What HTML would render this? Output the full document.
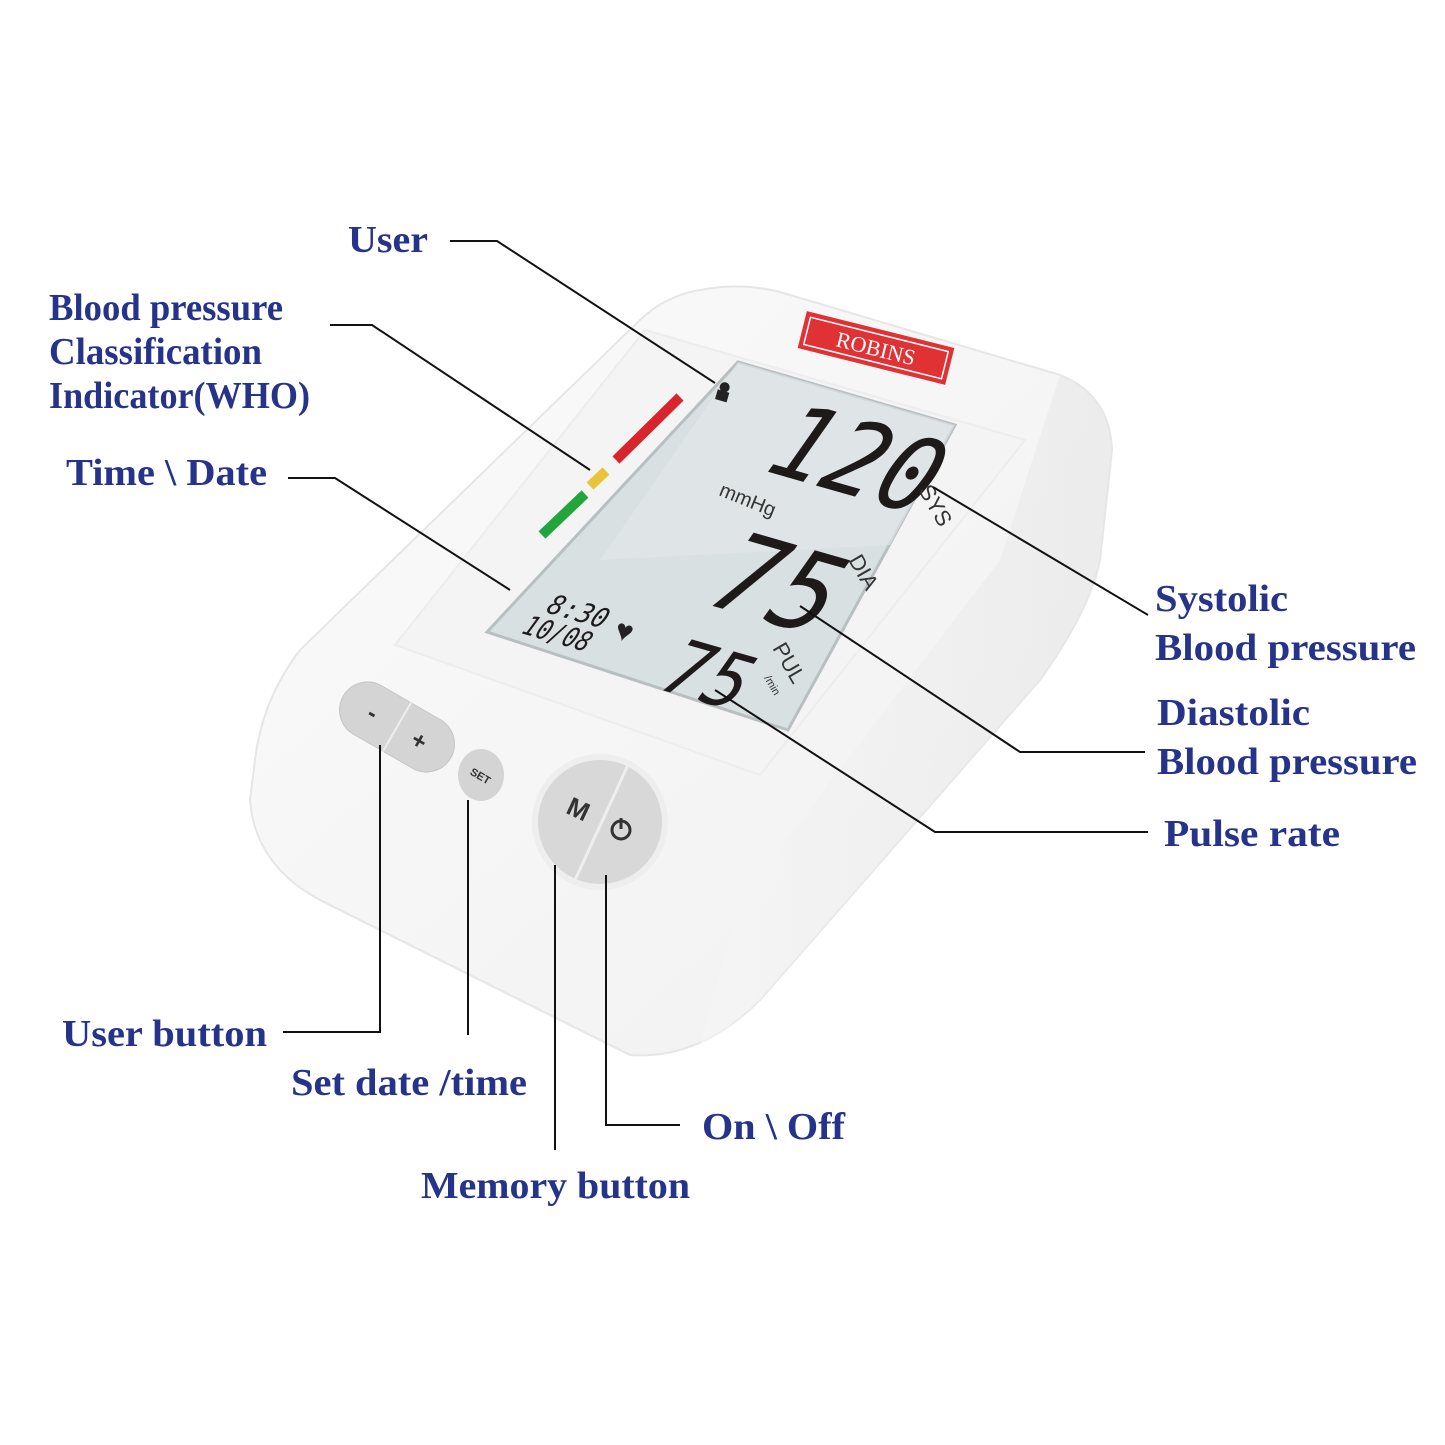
<!DOCTYPE html>
<html><head><meta charset="utf-8"><style>
html,body{margin:0;padding:0;background:#fff;}
svg{display:block}
.l{font-family:"Liberation Serif",serif;font-weight:bold;fill:#26338a;font-size:38px}
.d{font-family:"Liberation Sans",sans-serif;font-style:italic;fill:#1e1a1a}
</style></head><body>
<svg width="1445" height="1445" viewBox="0 0 1445 1445" xmlns="http://www.w3.org/2000/svg">
<defs>
<linearGradient id="bg" x1="0" y1="0" x2="1" y2="1">
<stop offset="0" stop-color="#fbfbfb"/><stop offset="1" stop-color="#f0f0f0"/></linearGradient>
<linearGradient id="side" x1="0" y1="0" x2="1" y2="0">
<stop offset="0" stop-color="#f6f6f6"/><stop offset="1" stop-color="#e6e6e6"/></linearGradient>
</defs>
<path d="M700,290 Q740,282 780,292 L1060,375 Q1110,395 1112,450 L1100,560 Q1090,610 1040,680 L760,1000 Q700,1060 630,1055 L320,900 Q255,865 250,800 L255,760 Q262,700 300,650 L640,320 Q665,296 700,290 Z" fill="url(#bg)" stroke="#e6e6e6" stroke-width="2"/>
<path d="M1060,375 Q1110,395 1112,450 L1100,560 Q1090,610 1040,680 L760,1000 Q730,1030 700,1045 L740,900 L1000,560 Z" fill="url(#side)" opacity="0.6"/>
<polygon points="645,330 1025,440 760,775 395,645" fill="#f4f4f4" stroke="#ededed" stroke-width="2"/>
<polygon points="738,362 955,425 788,730 487,632" fill="#d9e0e2" stroke="#b8bfc1" stroke-width="3"/>
<polygon points="738,362 955,425 890,545 600,560" fill="#e2e8e9" opacity="0.6"/>
<line x1="616" y1="460" x2="680" y2="397" stroke="#d8242c" stroke-width="10"/>
<line x1="590" y1="486" x2="606" y2="471" stroke="#e8c43a" stroke-width="10"/>
<line x1="542" y1="535" x2="585" y2="494" stroke="#22a53c" stroke-width="10"/>
<g transform="translate(876,348) rotate(14)">
<rect x="-76" y="-19" width="152" height="38" fill="#e03235"/>
<rect x="-71" y="-14" width="142" height="28" fill="none" stroke="#fff" stroke-width="1.5"/>
<text x="0" y="8" text-anchor="middle" font-family="Liberation Serif,serif" font-size="22" fill="#fff">ROBINS</text>
</g>
<g transform="translate(723,393) rotate(16)"><circle cx="0" cy="-6" r="5" fill="#222"/><rect x="-6" y="-2" width="12" height="10" fill="#222"/></g>
<g transform="translate(842,493) rotate(16) skewX(-10)"><text class="d" x="0" y="0" text-anchor="middle" font-size="105" textLength="165" lengthAdjust="spacingAndGlyphs" style="font-family:'DejaVu Sans Mono',monospace">120</text></g>
<g transform="translate(762,620) rotate(16) skewX(-10)"><text class="d" x="0" y="0" text-anchor="middle" font-size="112" textLength="120" lengthAdjust="spacingAndGlyphs" style="font-family:'DejaVu Sans Mono',monospace">75</text></g>
<g transform="translate(697,700) rotate(16) skewX(-10)"><text class="d" x="0" y="0" text-anchor="middle" font-size="78" textLength="82" lengthAdjust="spacingAndGlyphs" style="font-family:'DejaVu Sans Mono',monospace">75</text></g>
<g transform="translate(545,612) rotate(16) skewX(-12)"><text class="d" x="0" y="0" font-size="28" textLength="60" lengthAdjust="spacingAndGlyphs" style="font-family:'DejaVu Sans Mono',monospace">8:30</text><text class="d" x="-12" y="27" font-size="28" textLength="68" lengthAdjust="spacingAndGlyphs" style="font-family:'DejaVu Sans Mono',monospace">10/08</text></g>
<text x="616" y="642" font-size="30" fill="#222" transform="rotate(16 628 630)">♥</text>
<text x="718" y="495" font-size="20" font-family="Liberation Sans,sans-serif" fill="#333" transform="rotate(22 718 495)">mmHg</text>
<text x="918" y="490" font-size="22" font-family="Liberation Sans,sans-serif" fill="#333" transform="rotate(60 918 490)">SYS</text>
<text x="848" y="560" font-size="22" font-family="Liberation Sans,sans-serif" fill="#333" transform="rotate(60 848 560)">DIA</text>
<text x="772" y="648" font-size="22" font-family="Liberation Sans,sans-serif" fill="#333" transform="rotate(60 772 648)">PUL</text>
<text x="764" y="678" font-size="11" font-family="Liberation Sans,sans-serif" fill="#333" transform="rotate(60 764 678)">/min</text>
<g transform="translate(397,727) rotate(30)">
<rect x="-62" y="-28" width="124" height="56" rx="28" fill="#d4d4d4" stroke="#c4c4c4"/>
<line x1="0" y1="-28" x2="0" y2="28" stroke="#eee" stroke-width="2"/>
<text x="-28" y="8" font-size="24" font-weight="bold" text-anchor="middle" font-family="Liberation Sans,sans-serif" fill="#333">-</text>
<text x="26" y="9" font-size="24" font-weight="bold" text-anchor="middle" font-family="Liberation Sans,sans-serif" fill="#333">+</text>
</g>
<ellipse cx="481" cy="775" rx="23" ry="26" fill="#d4d4d4"/>
<text x="481" y="780" font-size="11" font-weight="bold" text-anchor="middle" font-family="Liberation Sans,sans-serif" fill="#333" transform="rotate(30 481 775)">SET</text>
<circle cx="600" cy="822" r="68" fill="#eeeeee"/>
<circle cx="600" cy="822" r="62" fill="#d8d8d8"/>
<line x1="628" y1="765" x2="575" y2="880" stroke="#eee" stroke-width="3"/>
<text x="578" y="818" font-size="26" font-weight="bold" text-anchor="middle" font-family="Liberation Sans,sans-serif" fill="#333" transform="rotate(25 578 810)">M</text>
<circle cx="621" cy="830" r="9" fill="none" stroke="#333" stroke-width="3"/>
<line x1="621" y1="818" x2="621" y2="829" stroke="#333" stroke-width="3"/>
<g fill="none" stroke="#111" stroke-width="2">
<polyline points="450,241 497,241 715,383"/>
<polyline points="330,325 372,325 590,470"/>
<polyline points="288,478 335,478 510,590"/>
<polyline points="933,487 1148,615"/>
<polyline points="800,606 1020,752 1145,752"/>
<polyline points="715,690 935,832 1148,832"/>
<polyline points="283,1032 380,1032 380,745"/>
<polyline points="468,800 468,1035"/>
<polyline points="555,865 555,1150"/>
<polyline points="606,875 606,1125 680,1125"/>
</g>
<text class="l" x="348" y="252" textLength="80" lengthAdjust="spacingAndGlyphs">User</text>
<text class="l" x="49" y="320" font-size="36" textLength="234" lengthAdjust="spacingAndGlyphs">Blood pressure</text>
<text class="l" x="49" y="364" font-size="36" textLength="213" lengthAdjust="spacingAndGlyphs">Classification</text>
<text class="l" x="49" y="408" font-size="36" textLength="261" lengthAdjust="spacingAndGlyphs">Indicator(WHO)</text>
<text class="l" x="66" y="485" textLength="201" lengthAdjust="spacingAndGlyphs">Time \ Date</text>
<text class="l" x="1155" y="611" textLength="133" lengthAdjust="spacingAndGlyphs">Systolic</text>
<text class="l" x="1155" y="660" textLength="261" lengthAdjust="spacingAndGlyphs">Blood pressure</text>
<text class="l" x="1157" y="725" textLength="153" lengthAdjust="spacingAndGlyphs">Diastolic</text>
<text class="l" x="1157" y="774" textLength="260" lengthAdjust="spacingAndGlyphs">Blood pressure</text>
<text class="l" x="1164" y="846" textLength="176" lengthAdjust="spacingAndGlyphs">Pulse rate</text>
<text class="l" x="62" y="1046" textLength="205" lengthAdjust="spacingAndGlyphs">User button</text>
<text class="l" x="291" y="1095" textLength="236" lengthAdjust="spacingAndGlyphs">Set date /time</text>
<text class="l" x="421" y="1198" textLength="269" lengthAdjust="spacingAndGlyphs">Memory button</text>
<text class="l" x="702" y="1139" textLength="143" lengthAdjust="spacingAndGlyphs">On \ Off</text>
</svg>
</body></html>
